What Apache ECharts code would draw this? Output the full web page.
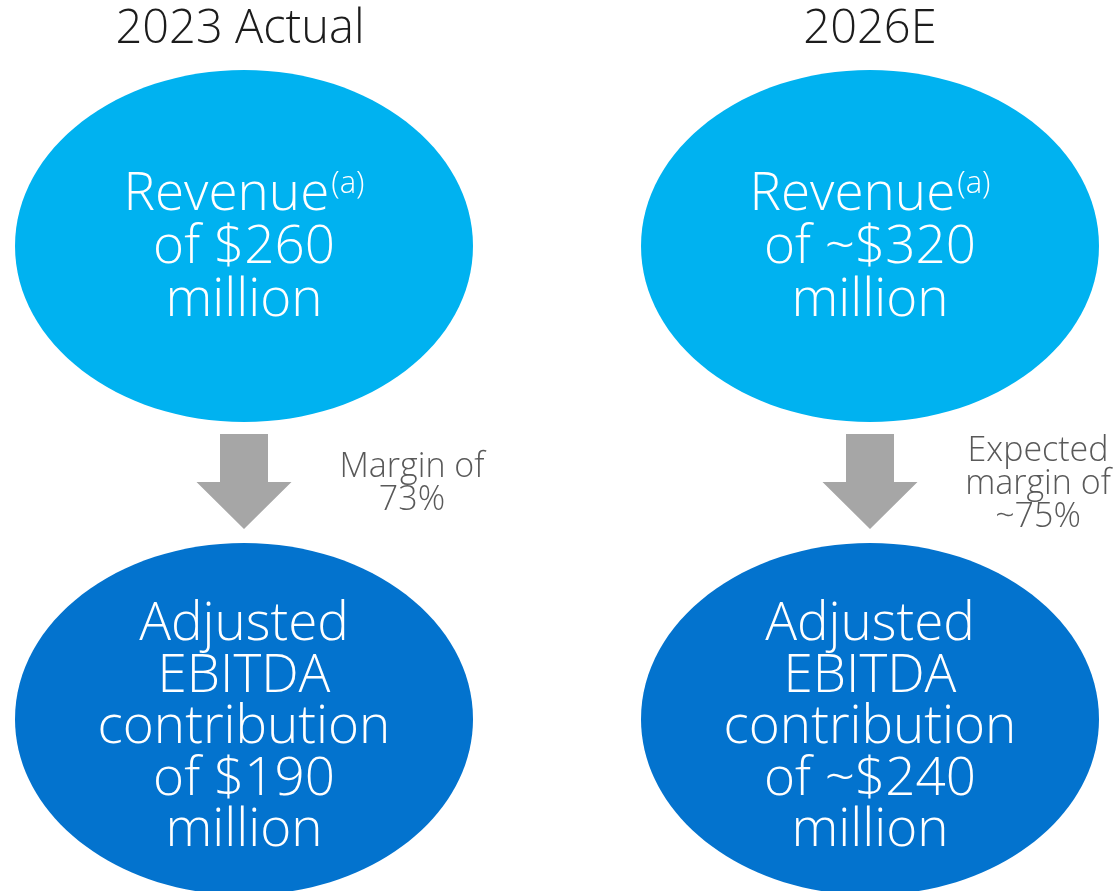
<!DOCTYPE html>
<html><head><meta charset="utf-8">
<script src="https://cdn.jsdelivr.net/npm/echarts@6/dist/echarts.min.js"></script>
<style>html,body{margin:0;padding:0;background:#fff}#main{width:1119px;height:891px}</style>
</head><body><div id="main"></div>
<script>
// ---- data ----
const periods = ['2023 Actual', '2026E'];
const revenueValues = ['$260', '~$320'];
const ebitdaValues = ['$190', '~$240'];
const marginLines = [['Margin of', '73%'], ['Expected', 'margin of', '~75%']];

// ---- layout (pixels in the y value axis, which spans the page) ----
const FONT = '"Open Sans"';
const W = 300;
const rowY = { title: 30, revenue: 246, arrow: 482, ebitda: 719 };
const ell = { rx: 229, ry: 176 };

const chart = echarts.init(document.getElementById('main'), null, { renderer: 'canvas' });

function renderItem(params, api) {
  const i = api.value(0);
  const c = (y) => api.coord([i, y]);
  const t = c(rowY.title), r = c(rowY.revenue), a = c(rowY.arrow), e = c(rowY.ebitda);
  const cx = r[0];
  const children = [];
  children.push({ type: 'text', x: cx - 4 * (1 - i), y: t[1], style: { text: periods[i], fill: '#1c1c1c', fontFamily: FONT, fontWeight: W, fontSize: 47, align: 'center', verticalAlign: 'middle' } });
  children.push({ type: 'ellipse', shape: { cx: cx, cy: r[1], rx: ell.rx, ry: ell.ry }, style: { fill: '#00B2F0' } });
  children.push({ type: 'text', x: cx, y: r[1] + 2, style: {
    text: 'Revenue{sup|(a)}\nof ' + revenueValues[i] + '\nmillion',
    fill: '#fff', fontFamily: FONT, fontWeight: W, fontSize: 53, lineHeight: 53, align: 'center', verticalAlign: 'middle',
    rich: { sup: { fontSize: 31, fontFamily: FONT, fontWeight: W, fill: '#fff', verticalAlign: 'top', lineHeight: 34, padding: [0, 0, 0, 2] } }
  } });
  // arrow
  const sh = 24, hh = 47.5, top = 434 - rowY.arrow, head = 0, tip = 529 - rowY.arrow;
  children.push({ type: 'polygon', shape: { points: [
    [cx - sh, a[1] + top], [cx + sh, a[1] + top], [cx + sh, a[1] + head], [cx + hh, a[1] + head],
    [cx, a[1] + tip], [cx - hh, a[1] + head], [cx - sh, a[1] + head]
  ] }, style: { fill: '#A6A6A6' } });
  children.push({ type: 'text', x: cx + 168, y: a[1] + 2, style: {
    text: marginLines[i].join('\n'), fill: '#595959', fontFamily: FONT, fontWeight: W, fontSize: 34, lineHeight: 33, align: 'center', verticalAlign: 'middle' } });
  children.push({ type: 'ellipse', shape: { cx: cx, cy: e[1], rx: ell.rx, ry: ell.ry }, style: { fill: '#0373CE' } });
  children.push({ type: 'text', x: cx, y: e[1] + 9, style: {
    text: 'Adjusted\nEBITDA\ncontribution\nof ' + ebitdaValues[i] + '\nmillion',
    fill: '#fff', fontFamily: FONT, fontWeight: W, fontSize: 53, lineHeight: 51.5, align: 'center', verticalAlign: 'middle' } });
  return { type: 'group', children };
}

chart.setOption({
  animation: false,
  grid: { left: 0, right: 0, top: 0, bottom: 0 },
  xAxis: { type: 'value', min: -244 / 626, max: (1119 - 244) / 626, show: false },
  yAxis: { type: 'value', min: 0, max: 891, inverse: true, show: false },
  series: [{ type: 'custom', renderItem, data: periods.map((p, i) => [i]), silent: true, clip: false }]
});
</script></body></html>
